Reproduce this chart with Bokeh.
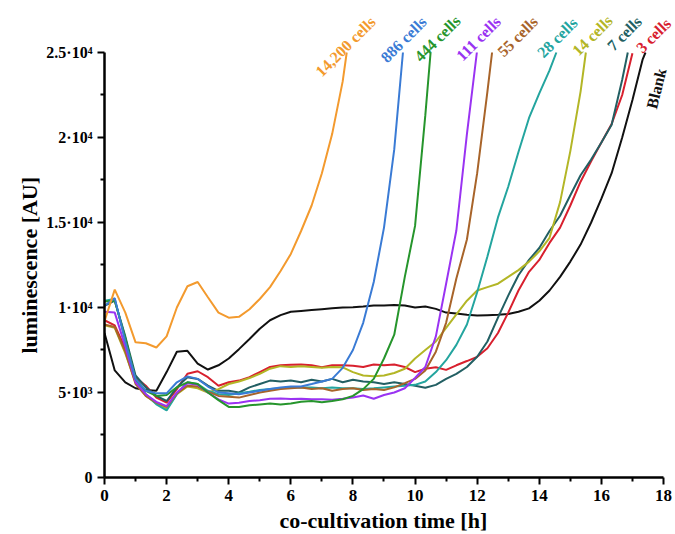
import math
from bokeh.plotting import figure
from bokeh.models import Range1d, FixedTicker, Label, Title
from bokeh.embed import file_html
from bokeh.resources import INLINE

# ---------------- data ----------------
time_h = [0, 0.33, 0.67, 1, 1.33, 1.67, 2, 2.33, 2.67, 3, 3.33, 3.67, 4, 4.33, 4.67,
          5, 5.33, 5.67, 6, 6.33, 6.67, 7, 7.33, 7.67, 8, 8.33, 8.67, 9, 9.33, 9.67,
          10, 10.33, 10.67, 11, 11.33, 11.67, 12, 12.33, 12.67, 13, 13.33, 13.67, 14,
          14.33, 14.67, 15, 15.33, 15.67, 16, 16.33, 16.67, 17, 17.33]

blank = [8500, 6300, 5600, 5250, 5150, 5100, 6200, 7400, 7450, 6700, 6350, 6600, 7000,
         7550, 8150, 8750, 9250, 9550, 9750, 9800, 9850, 9900, 9950, 10000, 10020, 10060,
         10120, 10120, 10150, 10120, 10000, 10060, 9920, 9700, 9650, 9580, 9530, 9550,
         9570, 9620, 9750, 9950, 10400, 11000, 11800, 12700, 13700, 15000, 16400, 17900,
         20000, 22200, 24600]
cells_3 = [9250, 8950, 7600, 5900, 5400, 4700, 4400, 5200, 6100, 6250, 5900, 5400, 5600,
           5700, 5900, 6200, 6500, 6600, 6630, 6650, 6600, 6480, 6600, 6600, 6580, 6500,
           6650, 6600, 6650, 6500, 6200, 6400, 6480, 6330, 6600, 6850, 7100, 7600, 8500,
           9700, 11000, 12100, 12800, 13800, 14700, 16000, 17400, 18600, 19700, 20800, 22500]
cells_7 = [10100, 10400, 8300, 6000, 5300, 4800, 4500, 5300, 5900, 5800, 5400, 5100, 5100,
           5000, 5300, 5500, 5700, 5650, 5700, 5600, 5750, 5650, 5800, 5600, 5750, 5650,
           5600, 5500, 5600, 5500, 5400, 5280, 5450, 5800, 6100, 6500, 7100, 8000, 9400,
           10700, 11900, 12800, 13500, 14500, 15400, 16600, 17780, 18700, 19700, 20750, 23400]
cells_14 = [8950, 8800, 7300, 5600, 4800, 4350, 4050, 4900, 5350, 5250, 5000, 5200, 5500,
            5650, 5850, 6100, 6400, 6550, 6500, 6550, 6500, 6450, 6500, 6480, 6200, 6000,
            5950, 6000, 6150, 6400, 7000, 7500, 8000, 8800, 9600, 10400, 11000, 11200,
            11400, 11800, 12200, 12700, 13300, 14100, 16200, 19200, 22700]
cells_28 = [10400, 10500, 8100, 5700, 4900, 4300, 3950, 4900, 5600, 5500, 5100, 4900, 4850,
            4950, 5050, 5150, 5200, 5250, 5300, 5300, 5300, 5250, 5300, 5250, 5250, 5200,
            5250, 5300, 5350, 5400, 5450, 5650, 6200, 6900, 7800, 9000, 10900, 13000, 15300,
            17100, 19150, 21150, 22600, 23950]
cells_55 = [9000, 8850, 7400, 5500, 4800, 4400, 4150, 4950, 5400, 5350, 5050, 4800, 4750,
            4700, 4850, 5000, 5100, 5200, 5250, 5300, 5200, 5250, 5100, 5200, 5250, 5150,
            5200, 5150, 5300, 5550, 5800, 6300, 7400, 9100, 11700, 14000, 17900, 22700]
cells_111 = [9750, 9700, 7700, 5600, 4900, 4450, 4200, 5000, 5550, 5450, 5000, 4600, 4350,
             4400, 4500, 4550, 4630, 4650, 4620, 4630, 4600, 4600, 4570, 4630, 4700, 4820,
             4630, 4850, 5000, 5250, 5850, 6500, 8300, 11400, 14530, 20200]
cells_444 = [10350, 10400, 8200, 5800, 5100, 4800, 4850, 5300, 5600, 5500, 5000, 4550, 4150,
             4150, 4250, 4300, 4350, 4300, 4350, 4450, 4500, 4430, 4500, 4600, 4800, 5200,
             5800, 7000, 8400, 11800, 14800, 21300]
cells_886 = [10100, 10550, 8000, 5800, 5100, 4950, 4950, 5600, 5950, 5800, 5350, 5000, 4950,
             4900, 5000, 5100, 5200, 5300, 5350, 5350, 5500, 5650, 5800, 6450, 7500, 9100,
             11500, 14700, 19300]
cells_14200 = [9200, 11050, 9700, 7950, 7900, 7650, 8300, 10000, 11250, 11500, 10600, 9700,
               9400, 9450, 9900, 10500, 11200, 12150, 13150, 14500, 16000, 17900, 20200, 23300]

# last reading of each curve (time [h], luminescence) where it leaves the chart top
end_points = {
    "Blank": (17.42, 25000), "3 cells": (17.0, 24950), "7 cells": (16.85, 25000),
    "14 cells": (15.5, 25000), "28 cells": (14.55, 25000), "55 cells": (12.48, 25000),
    "111 cells": (11.99, 25000), "444 cells": (10.5, 25000), "886 cells": (9.61, 25000),
    "14,200 cells": (7.8, 25000),
}

series_names = ["Blank", "3 cells", "7 cells", "14 cells", "28 cells", "55 cells",
                "111 cells", "444 cells", "886 cells", "14,200 cells"]
series_values = [blank, cells_3, cells_7, cells_14, cells_28, cells_55,
                 cells_111, cells_444, cells_886, cells_14200]

y_ticks = [0, 5000, 10000, 15000, 20000, 25000]
y_tick_labels = ["0", "5·10³", "1·10⁴", "1.5·10⁴", "2·10⁴", "2.5·10⁴"]
x_ticks = [0, 2, 4, 6, 8, 10, 12, 14, 16, 18]

# ---------------- styles ----------------
colors = {
    "Blank": "#111111", "3 cells": "#d8202e", "7 cells": "#225f63", "14 cells": "#b3b626",
    "28 cells": "#24a59f", "55 cells": "#a8642a", "111 cells": "#9a33f2",
    "444 cells": "#26952c", "886 cells": "#3a7bd5", "14,200 cells": "#f39a2e",
}
# label placement (center of text, data coords) and rotation in degrees
label_pos = {
    "14,200 cells": (7.76, 25350, 45), "886 cells": (9.63, 25760, 45),
    "444 cells": (10.72, 25820, 45), "111 cells": (12.04, 25820, 45),
    "55 cells": (13.30, 25940, 45), "28 cells": (14.58, 25880, 45),
    "14 cells": (15.71, 26000, 45), "7 cells": (16.74, 26120, 45),
    "3 cells": (17.68, 26000, 45), "Blank": (17.77, 22880, 76),
}

FONT = "Liberation Serif"

p = figure(frame_width=568, frame_height=469,
           x_range=Range1d(0, 18.29), y_range=Range1d(0, 27588),
           output_backend="svg", toolbar_location=None,
           min_border_left=104, min_border_right=3, min_border_top=8, min_border_bottom=57)
p.outline_line_color = None
p.xgrid.visible = False
p.ygrid.visible = False
p.background_fill_color = "white"

for name, vals in zip(series_names, series_values):
    et, ev = end_points[name]
    xs = time_h[:len(vals)] + [et]
    ys = vals + [ev]
    p.line(xs, ys, line_color=colors[name], line_width=2)

for name in series_names:
    lx, ly, ang = label_pos[name]
    p.add_layout(Label(x=lx, y=ly, text=name, angle=math.radians(ang),
                       text_align="center", text_baseline="middle",
                       text_font=FONT, text_font_style="bold", text_font_size="16px",
                       text_color=colors[name]))

# axes
for ax in (p.xaxis[0], p.yaxis[0]):
    ax.axis_line_width = 2.5
    ax.axis_line_color = "black"
    ax.major_tick_line_width = 2
    ax.minor_tick_line_width = 2
    ax.major_tick_in = 0
    ax.major_tick_out = 7
    ax.minor_tick_in = 0
    ax.minor_tick_out = 4
    ax.major_label_text_font = FONT
    ax.major_label_text_font_style = "bold"
    ax.major_label_text_color = "black"

p.xaxis.bounds = (0, 18)
p.yaxis.bounds = (0, 25000)
p.xaxis.ticker = FixedTicker(ticks=x_ticks, minor_ticks=[1, 3, 5, 7, 9, 11, 13, 15, 17])
p.yaxis.ticker = FixedTicker(ticks=y_ticks, minor_ticks=[2500, 7500, 12500, 17500, 22500])
p.yaxis.major_label_overrides = {t: s for t, s in zip(y_ticks, y_tick_labels)}
p.xaxis.major_label_text_font_size = "17px"
p.yaxis.major_label_text_font_size = "16px"
p.xaxis.major_label_standoff = 5
p.yaxis.major_label_standoff = 5

# axis titles
p.add_layout(Title(text="co-cultivation time [h]", align="left", offset=175, standoff=4,
                   text_font=FONT, text_font_style="bold", text_font_size="22px",
                   text_color="black"), "below")
p.add_layout(Title(text="luminescence [AU]", align="left", offset=124, standoff=4,
                   text_font=FONT, text_font_style="bold", text_font_size="22px",
                   text_color="black"), "left")

open("out.html", "w").write(file_html(p, INLINE))
